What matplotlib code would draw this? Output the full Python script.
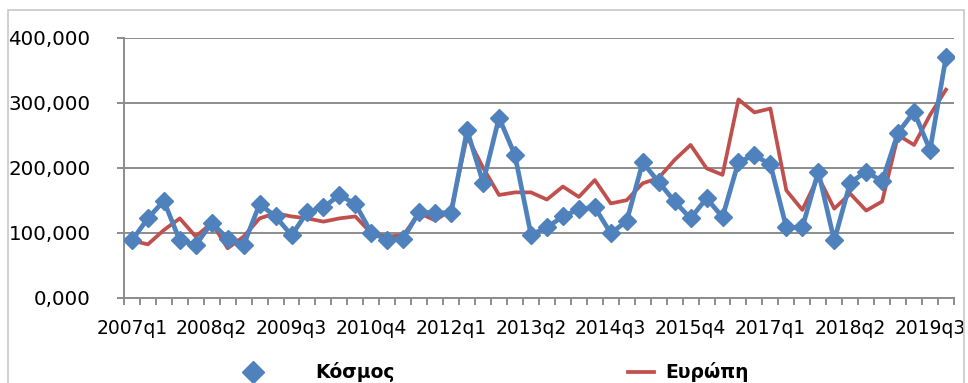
import matplotlib
matplotlib.use("Agg")
import matplotlib.pyplot as plt
from matplotlib.lines import Line2D
from matplotlib.patches import Rectangle

# quarters 2007q1 .. 2019q4
quarters = [f"{y}q{q}" for y in range(2007, 2020) for q in range(1, 5)]

# values in thousands
kosmos = [88, 122, 149, 88, 81, 115, 91, 81, 144, 125,
          96, 132, 139, 158, 144, 100, 89, 91, 132, 130,
          131, 258, 177, 277, 219, 97, 108, 125, 136, 139,
          99, 118, 208, 178, 148, 122, 153, 124, 209, 219,
          205, 108, 108, 194, 88, 177, 194, 179, 254, 286,
          227, 370]
evropi = [88, 82, 104, 122, 94, 115, 76, 94, 122, 130,
          125, 122, 117, 122, 125, 99, 94, 96, 130, 119,
          135, 248, 200, 158, 162, 162, 151, 171, 155, 181,
          145, 150, 176, 184, 212, 235, 199, 189, 305, 285,
          291, 165, 135, 186, 137, 160, 134, 148, 250, 235,
          281, 320]

yticks = [0, 100, 200, 300, 400]

blue = "#4f81bd"
red = "#c0504d"
grey = "#8c8c8c"

fig = plt.figure(figsize=(9.68, 3.83), dpi=100)
ax = fig.add_axes([0.128, 0.2227, 0.8575, 0.679])

x = list(range(len(quarters)))
ax.plot(x, evropi, color=red, lw=2.7, zorder=3)
ax.plot(x, kosmos, color=blue, lw=3.4, marker="D", markersize=9, zorder=4)

ax.set_xlim(-0.5, len(quarters) - 0.5)
ax.set_ylim(0, 400)
ax.set_yticks(yticks)
ax.set_yticklabels([f"{v:.3f}".replace(".", ",") for v in yticks])
ax.yaxis.grid(True, color=grey, lw=1.4)
ax.set_axisbelow(True)

# labels every 5 quarters, tick marks between categories
lab_pos = list(range(0, len(quarters), 5))
ax.set_xticks(lab_pos)
ax.set_xticklabels([quarters[i] for i in lab_pos])
ax.set_xticks([i - 0.5 for i in range(len(quarters) + 1)], minor=True)
ax.tick_params(axis="x", which="major", length=0, pad=15, labelsize=13.5)
ax.tick_params(axis="x", which="minor", length=5, width=1.4, color=grey)
ax.tick_params(axis="y", length=5, width=1.4, color=grey, labelsize=14.3, pad=19)

for s in ["top", "right"]:
    ax.spines[s].set_visible(False)
for s in ["left", "bottom"]:
    ax.spines[s].set_color(grey)
    ax.spines[s].set_linewidth(1.4)

leg_font = {"weight": "bold", "size": 13.5}
h1 = Line2D([], [], color=blue, lw=0, marker="D", markersize=11)
h2 = Line2D([], [], color=red, lw=2.7)
fig.legend([h1], ["Κόσμος"], loc="center left", bbox_to_anchor=(0.246, 0.028),
           frameon=False, handletextpad=2.5, handlelength=1.6, prop=leg_font,
           borderpad=0, borderaxespad=0)
fig.legend([h2], ["Ευρώπη"], loc="center left", bbox_to_anchor=(0.649, 0.028),
           frameon=False, handletextpad=0.6, handlelength=1.4, prop=leg_font,
           borderpad=0, borderaxespad=0)

fig.patches.append(Rectangle((0.008, -0.1), 0.988, 1.074, transform=fig.transFigure,
                             fill=False, edgecolor="#c8c8c8", lw=1.2))

fig.savefig("out.png", dpi=100)
